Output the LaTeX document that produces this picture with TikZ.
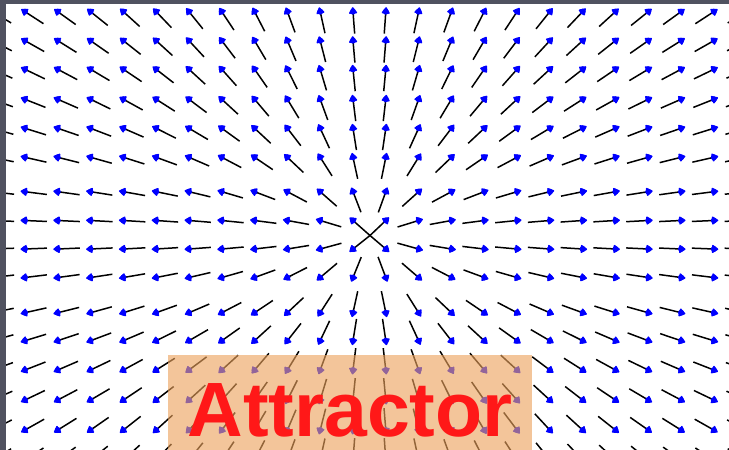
\documentclass[tikz,border=0pt]{standalone}
\usepackage{fontspec}
\setmainfont{Liberation Sans}
\usetikzlibrary{arrows.meta}
\definecolor{vecblue}{RGB}{0,0,255}
\definecolor{framegray}{RGB}{80,82,96}
\definecolor{boxfill}{RGB}{237,163,93}
\definecolor{txtred}{RGB}{255,24,24}
\begin{document}
\begin{tikzpicture}[x=1pt,y=-1pt,
  vecline/.style={line width=1.5pt, black, -{Triangle[length=7pt,width=9pt,round,color=vecblue]}},
  headdot/.style={fill=vecblue},
  labelbox/.style={fill=boxfill, fill opacity=0.62},
  labeltext/.style={font=\fontsize{77}{77}\selectfont\bfseries, text=txtred, anchor=base, inner sep=0pt}]
\useasboundingbox (0,0) rectangle (729,450);
\fill[white] (0,0) rectangle (729,450);
\clip (0,0) rectangle (729,450);
\foreach \yy in {11.7,40.7,69.3,99.3,128.3,157.3,191.7,220.5,249,277.5,312.7,340.7,370,400,430,460}{
  \foreach \i in {-1,...,22}{
    \pgfmathsetmacro{\xx}{25+32.8*\i}
    \pgfmathsetmacro{\ddx}{(\xx-370)/10}
    \pgfmathsetmacro{\ddy}{(\yy-235.5)/10}
    \pgfmathsetmacro{\rr}{sqrt(\ddx*\ddx+\ddy*\ddy)}
    \pgfmathsetmacro{\ux}{\ddx/\rr}
    \pgfmathsetmacro{\uy}{\ddy/\rr}
    \pgfmathsetmacro{\ax}{\xx-22*\ux}
    \pgfmathsetmacro{\ay}{\yy-22*\uy}
    \pgfmathsetmacro{\bx}{\xx+4.5*\ux}
    \pgfmathsetmacro{\by}{\yy+4.5*\uy}
    \coordinate (tail) at (\ax,\ay);
    \coordinate (head) at (\bx,\by);
    \coordinate (dot) at (\xx,\yy);
    \draw[vecline] (tail) -- (head);
    \fill[headdot] (dot) circle[radius=3pt];
  }
}
\fill[labelbox] (168,355) rectangle (532,455);
\node[labeltext] (label) at (350,436.7) {Attractor};
\fill[framegray] (0,0) rectangle (6,450);
\fill[framegray] (0,0) rectangle (729,3.5);
\end{tikzpicture}
\end{document}
